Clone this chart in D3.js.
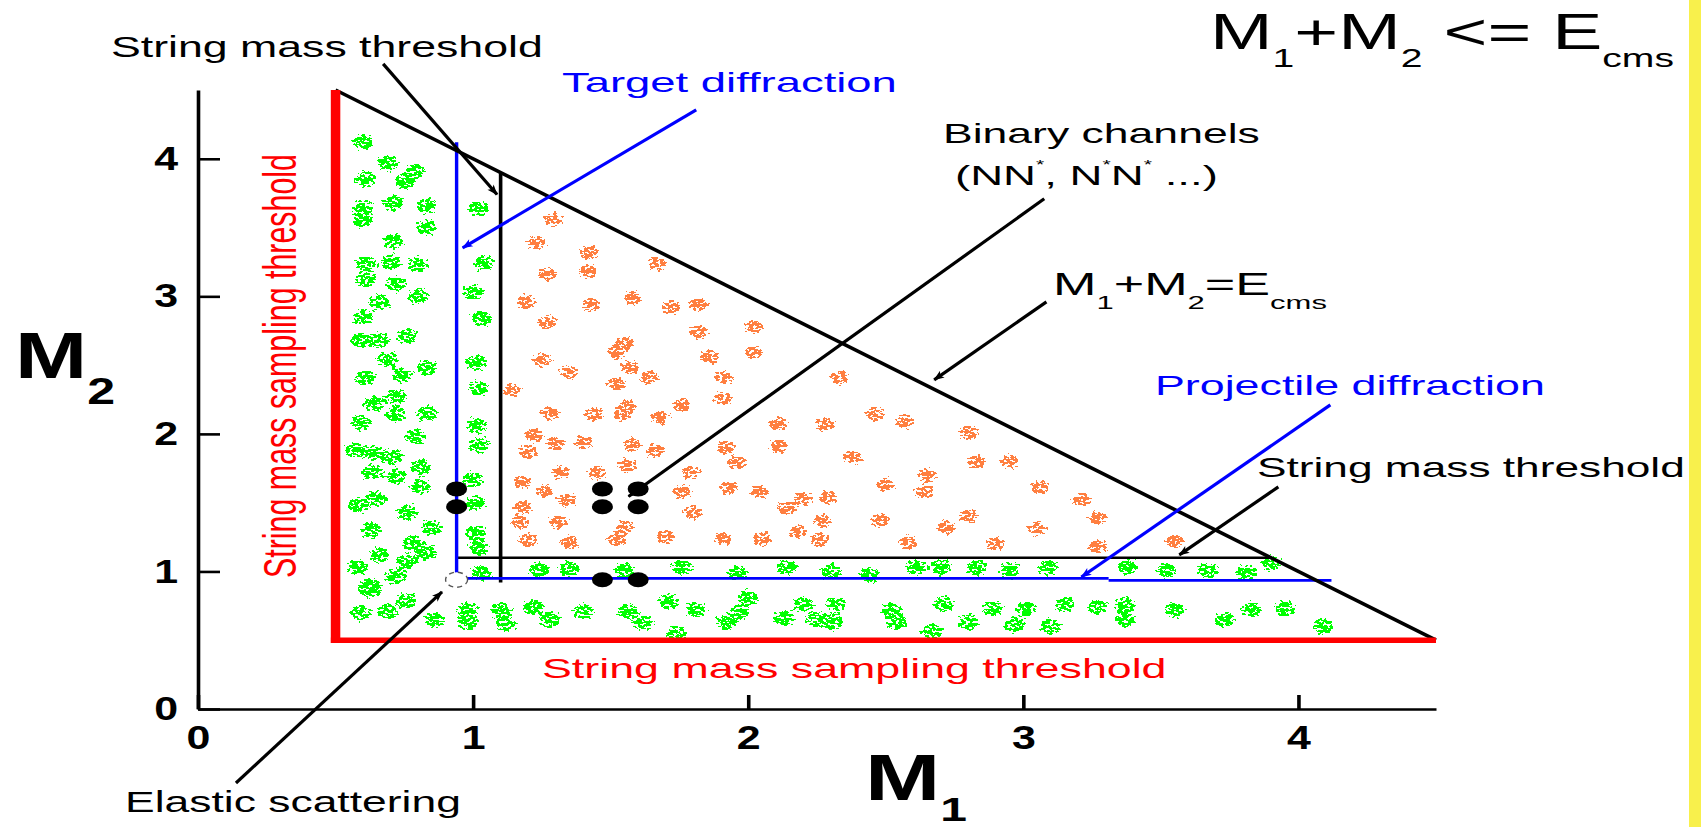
<!DOCTYPE html>
<html>
<head>
<meta charset="utf-8">
<script src="https://cdn.jsdelivr.net/npm/d3@7"></script>
<style>
  html, body { margin: 0; padding: 0; background: #ffffff; }
  svg { display: block; }
  text { font-family: "Liberation Sans", Arial, Helvetica, sans-serif; }
</style>
</head>
<body>
<svg id="chart" width="1701" height="827"></svg>
<script>
// ---- values --------------------------------------------------------------
const xTicks = [0, 1, 2, 3, 4];
const yTicks = [0, 1, 2, 3, 4];
const massDomain = [0, 4.5];

const eCms = 5.0;                 // kinematic limit M1 + M2 = Ecms
const samplingThreshold = 0.5;    // string mass sampling threshold
const nucleonMass = 0.94;         // diffraction / elastic lines
const stringThreshold = 1.1;      // string mass threshold
const diffractionReach = 4.12;    // end of the blue diffraction lines
const projectileStep = 3.31;      // where the projectile line steps down
const projectileLow = 0.935;

const elasticPoint = [0.94, 0.94];
const binaryPoints = [
  [0.94, 1.47], [0.94, 1.60],
  [1.47, 1.47], [1.60, 1.47], [1.47, 1.60], [1.60, 1.60],
  [1.47, 0.94], [1.60, 0.94]
];

// string-sampled events (single and double string excitation)
const greenBlobs = [
  [0.60,4.12],[0.69,3.97],[0.79,3.91],[0.61,3.85],[0.75,3.83],[0.60,3.64],[0.60,3.55],[0.71,3.68],
  [0.83,3.66],[0.83,3.50],[0.71,3.40],[0.61,3.24],[0.70,3.25],[0.80,3.23],[0.61,3.12],[0.72,3.09],
  [0.80,3.00],[0.66,2.96],[0.60,2.85],[0.59,2.68],[0.66,2.68],[0.76,2.71],[0.69,2.54],[0.61,2.41],
  [0.74,2.43],[0.83,2.48],[0.64,2.22],[0.72,2.27],[0.72,2.14],[0.83,2.15],[0.59,2.08],[0.79,1.98],
  [0.57,1.88],[0.64,1.86],[0.71,1.83],[0.63,1.72],[0.72,1.69],[0.81,1.76],[0.81,1.62],[0.65,1.53],
  [0.58,1.48],[0.76,1.43],[0.63,1.30],[0.85,1.32],[0.78,1.21],[0.83,1.14],[0.66,1.12],[0.76,1.07],
  [0.58,1.03],[0.72,0.96],[0.63,0.89],[0.76,0.79],[0.59,0.70],[0.69,0.71],[0.86,0.65],[0.62,0.87],
  [1.02,3.64],[1.04,3.24],[1.00,3.03],[1.03,2.84],[1.01,2.52],[1.02,2.33],[1.01,2.06],[1.02,1.92],
  [1.00,1.67],[1.01,1.50],[1.01,1.28],[1.02,1.17],[1.03,0.99],
  [1.24,1.01],[1.35,1.02],[1.55,1.01],[1.76,1.03],[1.96,0.99],[2.14,1.03],[2.30,1.00],[2.44,0.97],
  [2.61,1.03],[2.70,1.03],[2.83,1.03],[2.95,1.01],[3.09,1.03],[3.38,1.03],[3.52,1.01],[3.67,1.01],
  [3.81,0.99],[3.90,1.06],
  [0.98,0.72],[1.10,0.72],[0.98,0.63],[1.12,0.62],[1.22,0.74],[1.28,0.65],[1.40,0.71],[1.56,0.71],
  [1.62,0.63],[1.71,0.78],[1.74,0.55],[1.81,0.72],[1.92,0.63],[2.00,0.81],[1.97,0.70],[2.13,0.66],
  [2.20,0.76],[2.25,0.65],[2.32,0.76],[2.31,0.63],[2.52,0.72],[2.54,0.63],[2.71,0.76],[2.67,0.56],
  [2.80,0.63],[2.89,0.73],[3.01,0.73],[2.97,0.61],[3.10,0.60],[3.15,0.76],[3.27,0.74],[3.37,0.76],
  [3.37,0.65],[3.55,0.72],[3.73,0.65],[3.83,0.72],[3.95,0.73],[4.09,0.60]
];

// double-string events above both thresholds
const orangeBlobs = [
  [1.29,3.56],[1.23,3.39],[1.42,3.32],[1.67,3.24],[1.27,3.16],[1.42,3.18],[1.19,2.96],[1.43,2.94],
  [1.58,2.99],[1.72,2.92],[1.82,2.94],[1.27,2.81],[1.82,2.74],[2.02,2.78],[1.55,2.66],[1.52,2.59],
  [1.25,2.54],[1.86,2.56],[2.02,2.60],[1.35,2.45],[1.57,2.48],[1.64,2.41],[1.52,2.36],[1.14,2.32],
  [1.91,2.41],[2.33,2.41],[1.91,2.26],[1.76,2.21],[1.56,2.20],[1.44,2.14],[1.54,2.14],[1.28,2.15],
  [1.68,2.12],[2.11,2.07],[2.28,2.07],[2.46,2.14],[2.57,2.09],[2.80,2.01],[1.22,1.99],[1.30,1.93],
  [1.40,1.94],[1.58,1.92],[1.66,1.88],[1.20,1.87],[1.92,1.90],[2.11,1.91],[1.56,1.77],[1.96,1.79],
  [2.38,1.83],[2.83,1.80],[2.95,1.80],[1.18,1.65],[1.32,1.72],[1.45,1.72],[1.79,1.72],[2.65,1.70],
  [1.26,1.58],[1.34,1.52],[1.76,1.58],[1.93,1.61],[2.04,1.58],[2.20,1.53],[2.29,1.54],[2.50,1.63],
  [2.64,1.58],[3.06,1.61],[3.21,1.52],[1.18,1.47],[2.14,1.46],[2.27,1.37],[1.80,1.43],[2.48,1.37],
  [2.72,1.32],[2.80,1.40],[3.27,1.39],[3.05,1.31],[1.17,1.36],[1.31,1.36],[1.55,1.32],[2.18,1.29],
  [1.20,1.23],[1.35,1.21],[1.52,1.23],[1.70,1.25],[1.91,1.24],[2.05,1.24],[2.26,1.23],[2.58,1.21],
  [2.90,1.20],[3.27,1.18],[3.55,1.22]
];

// ---- layout --------------------------------------------------------------
const W = 1701, H = 827;
const svg = d3.select("#chart");
const x = d3.scaleLinear().domain(massDomain).range([198, 1436]);
const y = d3.scaleLinear().domain(massDomain).range([709, 90]);

svg.append("rect").attr("width", W).attr("height", H).attr("fill", "#ffffff");
svg.append("rect").attr("x", 1689).attr("y", 0).attr("width", 12).attr("height", H).attr("fill", "#f8f04c");

const defs = svg.append("defs");

// soft round blob, thresholded against noise into a speckled cluster
const grad = defs.append("radialGradient").attr("id", "blobGrad");
grad.append("stop").attr("offset", "0%").attr("stop-color", "#000").attr("stop-opacity", 1);
grad.append("stop").attr("offset", "60%").attr("stop-color", "#000").attr("stop-opacity", 0.95);
grad.append("stop").attr("offset", "100%").attr("stop-color", "#000").attr("stop-opacity", 0.55);

function speckleFilter(id, color, seed) {
  const f = defs.append("filter").attr("id", id)
    .attr("x", "-5%").attr("y", "-5%").attr("width", "110%").attr("height", "110%")
    .attr("color-interpolation-filters", "sRGB");
  f.append("feTurbulence").attr("type", "fractalNoise").attr("baseFrequency", "0.26 0.42")
    .attr("numOctaves", 2).attr("seed", seed).attr("result", "noise");
  f.append("feColorMatrix").attr("in", "noise").attr("type", "matrix")
    .attr("values", "0 0 0 0 0  0 0 0 0 0  0 0 0 0 0  1 0 0 0 0").attr("result", "na");
  f.append("feComposite").attr("in", "SourceAlpha").attr("in2", "na").attr("operator", "arithmetic")
    .attr("k1", 0).attr("k2", 1).attr("k3", 1).attr("k4", -0.9).attr("result", "sum");
  const ct = f.append("feComponentTransfer").attr("in", "sum").attr("result", "mask");
  ct.append("feFuncA").attr("type", "discrete").attr("tableValues", "0 1");
  f.append("feFlood").attr("flood-color", color).attr("result", "col");
  f.append("feComposite").attr("in", "col").attr("in2", "mask").attr("operator", "in");
}
speckleFilter("speckGreen", "#00ff00", 7);
speckleFilter("speckOrange", "#ff7f40", 11);

function arrowMarker(id, color) {
  defs.append("marker").attr("id", id).attr("viewBox", "0 -5 12 10")
    .attr("refX", 11).attr("refY", 0).attr("markerWidth", 13).attr("markerHeight", 9)
    .attr("markerUnits", "userSpaceOnUse").attr("orient", "auto")
    .append("path").attr("d", "M0,-4.5L12,0L0,4.5L3,0Z").attr("fill", color);
}
arrowMarker("arrowBlack", "#000");
arrowMarker("arrowBlue", "#0000ff");

// ---- event clusters ------------------------------------------------------
svg.append("g").attr("filter", "url(#speckGreen)")
  .selectAll("ellipse").data(greenBlobs).join("ellipse")
  .attr("cx", d => x(d[0])).attr("cy", d => y(d[1]))
  .attr("rx", 14).attr("ry", 10.5).attr("fill", "url(#blobGrad)");

svg.append("g").attr("filter", "url(#speckOrange)")
  .selectAll("ellipse").data(orangeBlobs).join("ellipse")
  .attr("cx", d => x(d[0])).attr("cy", d => y(d[1]))
  .attr("rx", 12.5).attr("ry", 9.2).attr("fill", "url(#blobGrad)");

// ---- axes ----------------------------------------------------------------
const fontFamily = '"Liberation Sans", Arial, Helvetica, sans-serif';

const yAxis = svg.append("g").attr("transform", `translate(${x(0)},0)`)
  .call(d3.axisLeft(y).tickValues(yTicks).tickFormat(d3.format("d"))
    .tickSizeInner(-22).tickSizeOuter(0).tickPadding(20));
yAxis.select(".domain").attr("stroke", "#000").attr("stroke-width", 3.6);
yAxis.selectAll(".tick line").attr("stroke", "#000").attr("stroke-width", 2.6);
yAxis.selectAll(".tick text")
  .attr("font-family", fontFamily).attr("font-size", 33).attr("font-weight", "bold").attr("fill", "#000")
  .attr("x", 0).attr("transform", "translate(-20,0) scale(1.3,1)");

const xAxis = svg.append("g").attr("transform", `translate(0,${y(0)})`)
  .call(d3.axisBottom(x).tickValues(xTicks).tickFormat(d3.format("d"))
    .tickSizeInner(-14).tickSizeOuter(0).tickPadding(17));
xAxis.select(".domain").attr("stroke", "#000").attr("stroke-width", 2.6);
xAxis.selectAll(".tick line").attr("stroke", "#000").attr("stroke-width", 3.6);
xAxis.selectAll(".tick text")
  .attr("font-family", fontFamily).attr("font-size", 33).attr("font-weight", "bold").attr("fill", "#000")
  .attr("transform", "scale(1.3,1)");

// ---- kinematic region ----------------------------------------------------
const lines = svg.append("g").attr("fill", "none").attr("stroke-linecap", "butt");
function seg(x1, y1, x2, y2, color, width, marker) {
  const l = lines.append("line")
    .attr("x1", x(x1)).attr("y1", y(y1)).attr("x2", x(x2)).attr("y2", y(y2))
    .attr("stroke", color).attr("stroke-width", width);
  if (marker) l.attr("marker-end", `url(#${marker})`);
  return l;
}

// string mass threshold (black)
seg(stringThreshold, eCms - stringThreshold, stringThreshold, nucleonMass - 0.02, "#000", 3.6);
seg(nucleonMass, stringThreshold, eCms - stringThreshold, stringThreshold, "#000", 2.4);

// diffraction lines (blue)
seg(nucleonMass, diffractionReach, nucleonMass, nucleonMass, "#0000ff", 3.4);
seg(nucleonMass, nucleonMass + 0.01, projectileStep, nucleonMass + 0.01, "#0000ff", 2.8);
seg(projectileStep, projectileLow, diffractionReach, projectileLow, "#0000ff", 2.8);

// M1 + M2 = Ecms
seg(samplingThreshold, eCms - samplingThreshold, eCms - samplingThreshold, samplingThreshold, "#000", 3.6);

// sampling threshold (red)
seg(samplingThreshold, massDomain[1], samplingThreshold, samplingThreshold - 0.02, "#ff0000", 9.5);
seg(samplingThreshold - 0.017, samplingThreshold, massDomain[1], samplingThreshold, "#ff0000", 5.6);

// ---- binary channels and elastic point ----------------------------------
svg.append("g").selectAll("ellipse").data(binaryPoints).join("ellipse")
  .attr("cx", d => x(d[0])).attr("cy", d => y(d[1]))
  .attr("rx", 10.5).attr("ry", 7.5).attr("fill", "#000");

svg.append("ellipse")
  .attr("cx", x(elasticPoint[0])).attr("cy", y(elasticPoint[1]))
  .attr("rx", 11).attr("ry", 7.5)
  .attr("fill", "#fff").attr("stroke", "#555").attr("stroke-width", 1.4)
  .attr("stroke-dasharray", "5,4");

// ---- annotation arrows ---------------------------------------------------
const arrows = [
  { from: [0.673, 4.69], to: [1.087, 3.74], color: "#000", m: "arrowBlack" },
  { from: [1.811, 4.356], to: [0.962, 3.353], color: "#0000ff", m: "arrowBlue" },
  { from: [3.076, 3.709], to: [1.565, 1.545], color: "#000", m: "arrowBlack" },
  { from: [3.084, 2.96], to: [2.676, 2.393], color: "#000", m: "arrowBlack" },
  { from: [4.116, 2.211], to: [3.211, 0.96], color: "#0000ff", m: "arrowBlue" },
  { from: [3.927, 1.615], to: [3.567, 1.12], color: "#000", m: "arrowBlack" },
  { from: [0.138, -0.538], to: [0.887, 0.851], color: "#000", m: "arrowBlack" }
];
arrows.forEach(a => seg(a.from[0], a.from[1], a.to[0], a.to[1], a.color, 3.2, a.m));

// ---- text ----------------------------------------------------------------
// each label is placed at its left baseline point and stretched to its width
function label(px, py, width, size, color, weight, build) {
  const g = svg.append("g");
  const t = g.append("text").attr("x", 0).attr("y", 0)
    .attr("font-family", fontFamily).attr("font-size", size)
    .attr("font-weight", weight || "normal").attr("fill", color);
  build(t);
  const bw = t.node().getBBox().width;
  g.attr("transform", `translate(${px},${py}) scale(${width / bw},1)`);
  return t;
}
const plain = s => t => t.text(s);

label(111, 57, 432, 29, "#000", null, plain("String mass threshold"));
label(562, 92, 335, 28, "#0000ff", null, plain("Target diffraction"));
label(943, 143, 317, 28, "#000", null, plain("Binary channels"));
label(955, 185, 263, 28, "#000", null, t => {
  t.append("tspan").text("(NN");
  t.append("tspan").attr("font-size", 13).attr("dy", -16).text("*");
  t.append("tspan").attr("dy", 16).text(", N");
  t.append("tspan").attr("font-size", 13).attr("dy", -16).text("*");
  t.append("tspan").attr("dy", 16).text("N");
  t.append("tspan").attr("font-size", 13).attr("dy", -16).text("*");
  t.append("tspan").attr("dy", 16).text(" ...)");
});
label(1053, 295, 274, 32, "#000", null, t => {
  t.append("tspan").text("M");
  t.append("tspan").attr("font-size", 19).attr("dy", 14).text("1");
  t.append("tspan").attr("dy", -14).text("+M");
  t.append("tspan").attr("font-size", 19).attr("dy", 14).text("2");
  t.append("tspan").attr("dy", -14).text("=E");
  t.append("tspan").attr("font-size", 19).attr("dy", 14).text("cms");
});
label(1155, 395, 390, 28, "#0000ff", null, plain("Projectile diffraction"));
label(1257, 477, 428, 27, "#000", null, plain("String mass threshold"));
label(1210, 49, 464, 50, "#000", null, t => {
  t.append("tspan").text("M");
  t.append("tspan").attr("font-size", 26).attr("dy", 18).text("1");
  t.append("tspan").attr("dy", -18).text("+M");
  t.append("tspan").attr("font-size", 26).attr("dy", 18).text("2");
  t.append("tspan").attr("dy", -18).text(" <= E");
  t.append("tspan").attr("font-size", 26).attr("dy", 18).text("cms");
});
label(125, 812, 336, 29, "#000", null, plain("Elastic scattering"));
label(542, 678, 625, 28, "#ff0000", null, plain("String mass sampling threshold"));

// axis titles
label(15, 378, 100, 64, "#000", "bold", t => {
  t.append("tspan").text("M");
  t.append("tspan").attr("font-size", 37).attr("dy", 26).text("2");
});
label(865, 800, 102, 64, "#000", "bold", t => {
  t.append("tspan").text("M");
  t.append("tspan").attr("font-size", 34).attr("dy", 21).text("1");
});

// vertical red label along the sampling threshold
const vg = svg.append("g").attr("transform", "translate(296,366) scale(1.62,1) rotate(-90)");
vg.append("text").attr("x", 0).attr("y", 0).attr("text-anchor", "middle")
  .attr("font-family", fontFamily).attr("font-size", 29).attr("fill", "#ff0000")
  .attr("textLength", 424).attr("lengthAdjust", "spacingAndGlyphs")
  .text("String mass sampling threshold");
</script>
</body>
</html>
